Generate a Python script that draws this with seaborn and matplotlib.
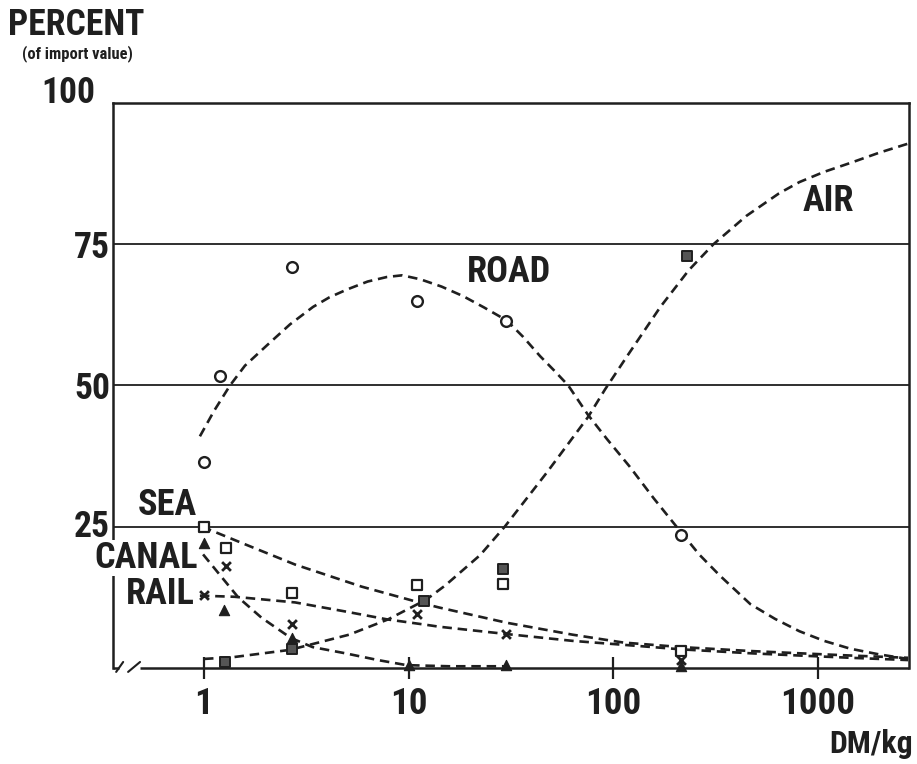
import matplotlib
matplotlib.use("Agg")
import matplotlib.pyplot as plt
from matplotlib import font_manager
from matplotlib.transforms import ScaledTranslation
import seaborn as sns

# ---- observed shares (percent of import value) by value density (DM/kg) ----
road_x = [1.0, 1.2, 2.7, 11, 30, 215]
road_y = [36.5, 51.7, 71, 65, 61.5, 23.6]
sea_x = [1.0, 1.28, 2.7, 11, 29, 215]
sea_y = [25, 21.2, 13.2, 14.6, 14.8, 3.0]
rail_x = [1.0, 1.28, 2.7, 11, 30, 215]
rail_y = [13, 18, 7.8, 9.6, 6.0, 1.4]
canal_x = [1.0, 1.25, 2.7, 10, 30, 215]
canal_y = [22.2, 10.3, 5.3, 0.6, 0.6, 0.3]
air_x = [1.27, 2.7, 11.9, 29, 230]
air_y = [1.1, 3.4, 11.9, 17.5, 73]

# ---- fitted trend curves ----
road_fit_x = [0.955, 1.12, 1.34, 1.585, 2.03, 2.63, 3.41, 4.1, 5.01, 6.31, 7.83,
              9.3, 11.4, 14.5, 18.5, 23.4, 30.2, 36.3, 43.9, 51.3, 60.3, 75.3,
              93.3, 120, 158, 204, 263, 331, 468, 617, 813, 1072, 1445, 1995, 2760]
road_fit_y = [41, 45.5, 50, 53.5, 57.1, 60.8, 63.9, 65.6, 67.0, 68.4, 69.2,
              69.5, 68.8, 67.5, 65.8, 63.8, 61.5, 58.6, 55.2, 52.7, 50, 44.8,
              40.5, 35.7, 30, 25, 20.1, 16.4, 11.3, 8.7, 6.5, 4.8, 3.4, 2.4, 1.6]
air_fit_x = [1.0, 1.38, 2.63, 5.13, 7.94, 12.2, 15.1, 22.4, 29.5, 47.4, 75.3,
             91.2, 117, 170, 234, 309, 447, 646, 813, 1072, 1445, 1995, 2760]
air_fit_y = [1.6, 1.9, 3.2, 5.9, 8.6, 12.1, 14.6, 20, 25, 34.6, 44.4,
             49.3, 55.2, 63.9, 70.4, 75, 80, 84.0, 86.0, 87.8, 89.4, 91.2, 92.8]
sea_fit_x = [0.98, 1.585, 2.79, 5.89, 11.0, 14.1, 30.2, 63.1, 112, 214, 468,
             813, 1445, 2760]
sea_fit_y = [25, 21.9, 18.3, 14.4, 11.7, 10.7, 8.0, 5.9, 4.5, 3.7, 3.0,
             2.6, 2.2, 1.8]
rail_fit_x = [0.955, 1.41, 2.79, 4.9, 7.85, 12.4, 14.1, 30.2, 63.1, 112, 214,
              468, 813, 1445, 2760]
rail_fit_y = [12.8, 12.6, 11.6, 10.0, 8.6, 7.6, 7.3, 6.0, 4.8, 4.1, 3.3,
              2.6, 2.2, 1.8, 1.4]
canal_fit_x = [0.99, 1.47, 1.91, 2.66, 3.39, 4.9, 7.08, 9.77, 15.8, 30.2]
canal_fit_y = [20.1, 12.5, 8.9, 5.3, 3.7, 2.6, 1.4, 0.5, 0.3, 0.3]

x_ticks = [1, 10, 100, 1000]
x_tick_labels = ["1", "10", "100", "1000"]
y_ticks = [25, 50, 75, 100]
y_tick_labels = ["25", "50", "75", "100"]

INK = "#1f1f1f"

sns.set_style("white")
names = {f.name for f in font_manager.fontManager.ttflist}
main_family = "DejaVu Sans"
size_k = 0.86
for cand, k in [("Liberation Sans Narrow", 1.0), ("Roboto Condensed", 0.95),
                ("DejaVu Sans Condensed", 0.86)]:
    if cand in names:
        main_family, size_k = cand, k
        break
plt.rcParams["font.family"] = [main_family, "DejaVu Sans"]
plt.rcParams["font.stretch"] = "condensed"
plt.rcParams["font.weight"] = "bold"
plt.rcParams["text.color"] = INK


def fs(v):
    return v * size_k


fig = plt.figure(figsize=(9.17, 7.64), dpi=100)
ax = fig.add_axes([0.1232, 0.1257, 0.8681, 0.7395])
ax.set_xscale("log")
ax.set_xlim(0.3591, 2791)
ax.set_ylim(0, 100)

# horizontal reference lines
for yv in [25, 50, 75]:
    ax.axhline(yv, color=INK, lw=1.3, zorder=1)

dash = (0, (3.6, 2.2))
for fx, fy in [(road_fit_x, road_fit_y), (air_fit_x, air_fit_y),
               (sea_fit_x, sea_fit_y), (rail_fit_x, rail_fit_y),
               (canal_fit_x, canal_fit_y)]:
    sns.lineplot(x=fx, y=fy, ax=ax, color=INK, lw=1.9, linestyle=dash,
                 sort=False, estimator=None, zorder=2)

# observed points
sns.scatterplot(x=road_x, y=road_y, ax=ax, marker="o", s=60, facecolor="white",
                edgecolor=INK, linewidth=1.7, zorder=4, clip_on=False)
sns.scatterplot(x=sea_x, y=sea_y, ax=ax, marker="s", s=50, facecolor="white",
                edgecolor=INK, linewidth=1.6, zorder=4, clip_on=False)
sns.scatterplot(x=rail_x, y=rail_y, ax=ax, marker="x", s=40, color=INK,
                linewidth=2.0, zorder=4, clip_on=False)
sns.scatterplot(x=canal_x, y=canal_y, ax=ax, marker="^", s=55, color=INK,
                edgecolor=INK, linewidth=0.8, zorder=4, clip_on=False)
sns.scatterplot(x=air_x, y=air_y, ax=ax, marker="s", s=60, color="#555555",
                edgecolor=INK, linewidth=1.4, zorder=4, clip_on=False)

# mode labels
lab = dict(fontsize=fs(27.5), fontweight="bold", color=INK, ha="center", va="center")
ax.text(31, 70, "ROAD", **lab)
ax.text(1120, 82.7, "AIR", **lab)
ax.text(0.66, 28.9, "SEA", clip_on=False, zorder=6, **lab)
ax.text(0.52, 19.4, "CANAL", clip_on=False, zorder=6,
        bbox=dict(facecolor="white", edgecolor="none", pad=0), **lab)
ax.text(0.61, 13.1, "RAIL", clip_on=False, zorder=6, **lab)

# frame: bottom axis drawn with a break near the origin
for side in ["left", "top", "right"]:
    ax.spines[side].set_linewidth(1.8)
    ax.spines[side].set_color(INK)
ax.spines["bottom"].set_visible(False)
ax.plot([0.0, 0.007], [0, 0], transform=ax.transAxes, color=INK, lw=1.8,
        clip_on=False, zorder=3, solid_capstyle="butt")
ax.plot([0.034, 1.0], [0, 0], transform=ax.transAxes, color=INK, lw=1.8,
        clip_on=False, zorder=3, solid_capstyle="butt")
ax.plot([0.004, 0.0128], [-0.007, 0.0106], transform=ax.transAxes, color=INK,
        lw=1.5, clip_on=False)
ax.plot([0.019, 0.034], [-0.007, 0.0106], transform=ax.transAxes, color=INK,
        lw=1.5, clip_on=False)

ax.set_xticks(x_ticks)
ax.set_xticklabels(x_tick_labels)
ax.xaxis.set_minor_locator(matplotlib.ticker.NullLocator())
ax.tick_params(axis="x", direction="inout", length=16, width=1.6, color=INK,
               labelsize=fs(28), pad=5, bottom=True)
ax.set_yticks(y_ticks)
ax.set_yticklabels(y_tick_labels)
ax.tick_params(axis="y", length=0, labelsize=fs(27), pad=2, left=True)
for t in ax.get_xticklabels() + ax.get_yticklabels():
    t.set_fontweight("bold")
    t.set_color(INK)
ylabels = ax.get_yticklabels()
ylabels[0].set_transform(ylabels[0].get_transform() +
                         ScaledTranslation(0, 4 / 100, fig.dpi_scale_trans))
ylabels[-1].set_transform(ylabels[-1].get_transform() +
                          ScaledTranslation(-15 / 100, 14 / 100, fig.dpi_scale_trans))
ax.set_xlabel("")
ax.set_ylabel("")
ax.grid(False)

fig.text(8 / 917, 1 - 35 / 764, "PERCENT", fontsize=fs(27), fontweight="bold",
         ha="left", va="baseline")
fig.text(77 / 917, 1 - 58 / 764, "(of import value)", fontsize=fs(12.5),
         fontweight="bold", ha="center", va="baseline")
fig.text(913 / 917, 1 - 753 / 764, "DM/kg", fontsize=fs(24), fontweight="bold",
         ha="right", va="baseline")

fig.savefig("out.png", dpi=100, facecolor="white")
